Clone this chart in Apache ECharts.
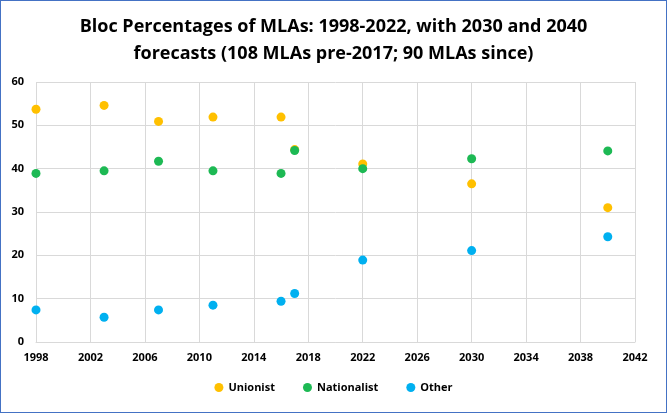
<!DOCTYPE html>
<html><head><meta charset="utf-8">
<script src="https://cdn.jsdelivr.net/npm/echarts@6/dist/echarts.min.js"></script>
<style>
html,body{margin:0;padding:0;background:#fff;}
#frame{position:absolute;left:0;top:0;width:665px;height:411px;border:1px solid #4472C4;}
#chart{position:absolute;left:0;top:0;width:667px;height:414px;}
</style></head>
<body>
<div id="chart"></div>
<div id="frame"></div>
<script>
const years = [1998, 2003, 2007, 2011, 2016, 2017, 2022, 2030, 2040];
const unionist = [53.7, 54.6, 50.9, 51.9, 51.9, 44.4, 41.1, 36.5, 31.0];
const nationalist = [38.9, 39.5, 41.7, 39.5, 38.9, 44.2, 40.0, 42.3, 44.1];
const other = [7.4, 5.7, 7.4, 8.5, 9.4, 11.2, 18.9, 21.1, 24.3];
const seriesNames = ['Unionist', 'Nationalist', 'Other'];
const colors = ['#FFC000', '#1DB954', '#00B0F0'];
const values = [unionist, nationalist, other];

const chart = echarts.init(document.getElementById('chart'));
const font = "Open Sans";
chart.setOption({
  animation: false,
  title: {
    text: 'Bloc Percentages of MLAs: 1998-2022, with 2030 and 2040\nforecasts (108 MLAs pre-2017; 90 MLAs since)',
    left: 'center', top: 8,
    textStyle: {fontFamily: font, fontSize: 18, fontWeight: 'bold', color: '#000', lineHeight: 27}
  },
  legend: {
    bottom: 16, left: 'center', itemWidth: 9, itemHeight: 9, itemGap: 28,
    icon: 'circle',
    textStyle: {fontFamily: font, fontSize: 11, fontWeight: 'bold', color: '#000'},
    data: seriesNames
  },
  grid: {left: 36, right: 32, top: 82, bottom: 72, containLabel: false},
  xAxis: {
    type: 'value', min: 1998, max: 2042, interval: 4,
    axisLine: {show: true, lineStyle: {color: '#d9d9d9'}},
    axisTick: {show: false},
    splitLine: {show: true, lineStyle: {color: '#d9d9d9'}},
    axisLabel: {fontFamily: font, fontSize: 11, fontWeight: 'bold', color: '#000', margin: 10,
      formatter: v => String(v), showMaxLabel: true}
  },
  yAxis: {
    type: 'value', min: 0, max: 60, interval: 10,
    axisLine: {show: false}, axisTick: {show: false},
    splitLine: {show: true, lineStyle: {color: '#d9d9d9'}},
    axisLabel: {fontFamily: font, fontSize: 11, fontWeight: 'bold', color: '#000', margin: 12}
  },
  series: seriesNames.map((n, i) => ({
    name: n, type: 'scatter', symbolSize: 9,
    itemStyle: {color: colors[i], opacity: 1},
    data: years.map((y, j) => [y, values[i][j]])
  }))
});
</script>
</body></html>
